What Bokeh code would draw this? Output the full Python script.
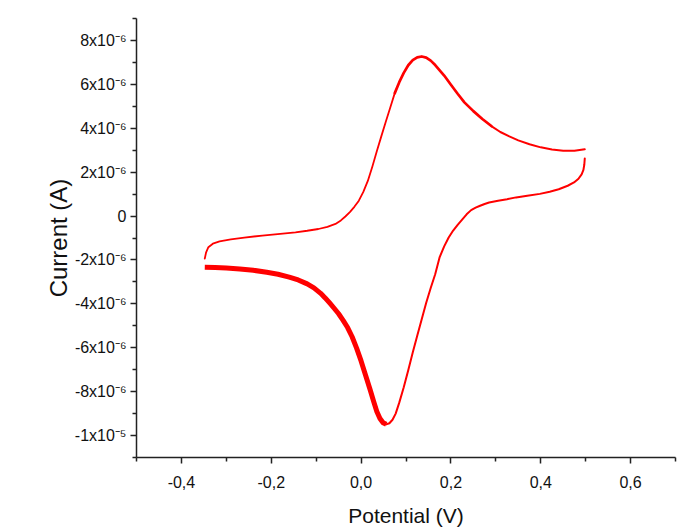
import numpy as np
from bokeh.plotting import figure
from bokeh.models import FixedTicker
from bokeh.embed import file_html
from bokeh.resources import INLINE

# Anodic (forward) sweep: potential (V), current (µA)
anodic_v = [-0.348, -0.345, -0.340, -0.330, -0.315, -0.290, -0.260, -0.220, -0.180,
            -0.146, -0.120, -0.095, -0.075, -0.057, -0.045, -0.035, -0.025, -0.015,
            -0.005, 0.005, 0.015, 0.025, 0.035, 0.045, 0.055, 0.065, 0.075, 0.085,
            0.095, 0.105, 0.115, 0.125, 0.135, 0.145, 0.155, 0.165, 0.175, 0.185,
            0.200, 0.215, 0.230, 0.250, 0.270, 0.290, 0.310, 0.330, 0.350, 0.375,
            0.400, 0.425, 0.450, 0.475, 0.498]
anodic_i = [-1.94, -1.65, -1.42, -1.26, -1.15, -1.06, -0.98, -0.89, -0.81,
            -0.74, -0.67, -0.59, -0.49, -0.36, -0.20, -0.02, 0.18, 0.42,
            0.70, 1.10, 1.60, 2.25, 2.95, 3.63, 4.30, 4.95, 5.60, 6.10,
            6.52, 6.87, 7.10, 7.23, 7.27, 7.22, 7.08, 6.88, 6.64, 6.40,
            5.98, 5.57, 5.18, 4.78, 4.42, 4.10, 3.83, 3.63, 3.45, 3.27,
            3.13, 3.03, 2.97, 2.97, 3.04]

# Cathodic (reverse) sweep
cathodic_v = [0.498, 0.497, 0.495, 0.491, 0.484, 0.474, 0.460, 0.440, 0.420, 0.398,
              0.370, 0.345, 0.325, 0.305, 0.285, 0.275, 0.265, 0.255, 0.245, 0.235,
              0.225, 0.215, 0.205, 0.195, 0.185, 0.175, 0.165, 0.155, 0.145, 0.135,
              0.125, 0.115, 0.105, 0.095, 0.085, 0.077, 0.070, 0.063, 0.056, 0.049,
              0.042, 0.035, 0.028, 0.020, 0.010, 0.000, -0.010, -0.020, -0.030, -0.040,
              -0.050, -0.060, -0.070, -0.080, -0.090, -0.105, -0.120, -0.140, -0.160, -0.185,
              -0.210, -0.240, -0.270, -0.300, -0.325, -0.348]
cathodic_i = [2.62, 2.35, 2.10, 1.90, 1.70, 1.53, 1.38, 1.22, 1.11, 1.01,
              0.92, 0.85, 0.77, 0.70, 0.62, 0.55, 0.47, 0.38, 0.27, 0.08,
              -0.16, -0.40, -0.66, -0.98, -1.38, -1.87, -2.65, -3.28, -3.95, -4.70,
              -5.45, -6.22, -7.02, -7.80, -8.50, -9.00, -9.28, -9.44, -9.49, -9.42,
              -9.22, -8.90, -8.45, -7.90, -7.25, -6.60, -6.02, -5.50, -5.08, -4.75,
              -4.45, -4.20, -3.96, -3.73, -3.52, -3.27, -3.09, -2.91, -2.78, -2.65,
              -2.56, -2.47, -2.41, -2.37, -2.34, -2.33]

x_major = [-0.4, -0.2, 0.0, 0.2, 0.4, 0.6]
x_minor = [-0.5, -0.3, -0.1, 0.1, 0.3, 0.5, 0.7]
x_labels = ["-0,4", "-0,2", "0,0", "0,2", "0,4", "0,6"]
y_major = [-10, -8, -6, -4, -2, 0, 2, 4, 6, 8]
y_minor = [-11, -9, -7, -5, -3, -1, 1, 3, 5, 7, 9]
y_labels = ["-1x10\u207b\u2075", "-8x10\u207b\u2076", "-6x10\u207b\u2076", "-4x10\u207b\u2076",
            "-2x10\u207b\u2076", "0", "2x10\u207b\u2076", "4x10\u207b\u2076",
            "6x10\u207b\u2076", "8x10\u207b\u2076"]
x_title = "Potential (V)"
y_title = "Current (A)"

FONT = "Liberation Sans"
RED = "#ff0000"

p = figure(width=680, height=529, output_backend="svg", toolbar_location=None,
           x_range=(-0.5, 0.7), y_range=(-11, 9),
           min_border_left=136, min_border_right=5, min_border_top=18, min_border_bottom=67)
p.outline_line_color = None
p.grid.visible = False

av = np.array(anodic_v); ai = np.array(anodic_i)
cv = np.array(cathodic_v); ci = np.array(cathodic_i)

# anodic sweep, somewhat thicker around the peak
a1 = np.where(av <= 0.075)[0]
a2 = np.where((av >= 0.075) & (av <= 0.30))[0]
a3 = np.where(av >= 0.290)[0]
for idx, w in ((a1, 1.8), (a2, 2.7), (a3, 2.0)):
    p.line(av[idx], ai[idx], line_color=RED, line_width=w, line_join="round", line_cap="round")

# cathodic sweep, thick after the reduction peak
kmin = int(np.argmin(ci))
p.line(cv[:kmin + 1], ci[:kmin + 1], line_color=RED, line_width=2.0, line_join="round", line_cap="round")
p.line(cv[kmin:], ci[kmin:], line_color=RED, line_width=5.0, line_join="round", line_cap="butt")

for ax in (p.xaxis, p.yaxis):
    ax.axis_line_color = "#222222"
    ax.axis_line_width = 1.5
    ax.major_tick_line_color = "#222222"
    ax.minor_tick_line_color = "#222222"
    ax.major_tick_line_width = 1.5
    ax.minor_tick_line_width = 1.5
    ax.major_tick_out = 6
    ax.major_tick_in = 0
    ax.minor_tick_out = 4
    ax.minor_tick_in = 0
    ax.major_label_text_font = FONT
    ax.major_label_text_font_size = "16px"
    ax.major_label_text_color = "#111111"
    ax.axis_label_text_font = FONT
    ax.axis_label_text_font_style = "normal"
    ax.axis_label_text_color = "#111111"

p.xaxis.ticker = FixedTicker(ticks=x_major, minor_ticks=x_minor)
p.xaxis.major_label_overrides = {t: l for t, l in zip(x_major, x_labels)}
p.yaxis.ticker = FixedTicker(ticks=y_major, minor_ticks=y_minor)
p.yaxis.major_label_overrides = {t: l for t, l in zip(y_major, y_labels)}
p.xaxis.axis_label = x_title
p.yaxis.axis_label = y_title
p.xaxis.axis_label_text_font_size = "21px"
p.yaxis.axis_label_text_font_size = "24px"
p.xaxis.major_label_standoff = 12
p.yaxis.major_label_standoff = 4
p.xaxis.axis_label_standoff = 13
p.yaxis.axis_label_standoff = 0

open("out.html", "w").write(file_html(p, INLINE))
